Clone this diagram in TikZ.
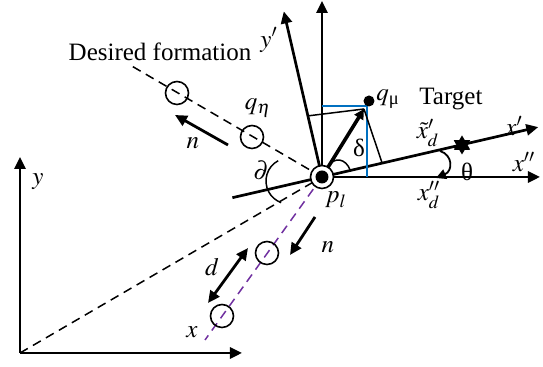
\documentclass[tikz,border=0pt]{standalone}
\usepackage{amsmath}
\usepackage{mathptmx}
\usepackage[no-math]{fontspec}
\setmainfont{Liberation Serif}
\usepackage{tikz}
\usetikzlibrary{arrows.meta,shapes.geometric}
\definecolor{projblue}{RGB}{0,112,192}
\definecolor{linkpurple}{RGB}{112,48,160}

\begin{document}
\begin{tikzpicture}[x=0.5pt,y=0.5pt,
  axis/.style={line width=1.35pt,-{Triangle[length=6pt,width=5.5pt]}},
  dline/.style={line width=0.75pt,dash pattern=on 4.5pt off 3pt},
  proj/.style={line width=0.75pt},
  movearr/.style={line width=1.4pt,-{Triangle[length=6pt,width=5.5pt]}},
  agent/.style={circle,draw,line width=0.8pt,minimum size=11.5pt,inner sep=0pt},
  lbl/.style={font=\fontsize{12.5}{15}\selectfont,inner sep=1pt},
  >={Triangle[length=5pt,width=5pt]}]
\useasboundingbox (0,0) rectangle (543,367);
\coordinate (pl) at (322,190);
\coordinate (origin) at (20,14);
\coordinate (worldx) at (242,14);
\coordinate (worldy) at (20,210);
\coordinate (ztop) at (322,366);
\coordinate (xpp) at (540,190);
\coordinate (xptip) at (538.3,239.9);
\coordinate (xpback) at (232.4,169.3);
\coordinate (yptip) at (283.8,355.6);
\coordinate (formend) at (130,302);
\coordinate (linkend) at (205,27);
\coordinate (qtip) at (364,258);
\coordinate (footx) at (382.1,203.9);
\coordinate (footy) at (307.9,251.1);
\coordinate (bleft) at (322,261);
\coordinate (bcorner) at (367,261);
\coordinate (bfoot) at (367,190);
\coordinate (nstartA) at (228,222);
\coordinate (nendA) at (175,252);
\coordinate (nstartB) at (315,150);
\coordinate (nendB) at (290,112);
\coordinate (dA) at (248,119);
\coordinate (dB) at (208,64);

% world frame
\draw[axis] (origin) -- (worldx);
\draw[axis] (origin) -- (worldy);
\draw[dline] (origin) -- (pl);

% formation lines and agents
\draw[dline] (pl) -- (formend);
\draw[dline,linkpurple] (pl) -- (linkend);
\node[agent] (qeta) at (252,230) {};
\node[agent] (qfar) at (177,274) {};
\node[agent] (fnear) at (267,114) {};
\node[agent] (ffar) at (222,51) {};

% leader frames
\draw[axis] (pl) -- (ztop);
\draw[axis] (pl) -- (xpp);
\draw[axis] (xpback) -- (xptip);
\draw[axis] (pl) -- (yptip);

% projections of the target
\draw[projblue,line width=1.1pt] (bleft) -- (bcorner) -- (bfoot);
\draw[proj] (footy) -- (qtip);
\draw[proj] (footx) -- (qtip);
\draw[line width=1.8pt,->] (pl) -- (qtip);
\node[circle,fill,minimum size=5.5pt,inner sep=0pt] (target) at (369,266) {};
\node[star,star points=6,star point ratio=1.7,fill,minimum size=9.5pt,inner sep=0pt] (xdmark) at (462,222) {};

% angles
\draw[proj] (328.7,201.1) .. controls (334,210) and (346,209) .. (350.3,196.5);
\draw[line width=0.9pt,->] (440,216) .. controls (453,212) and (453,196) .. (436,189);
\draw[proj] (278.2,206.3) arc[start angle=118,end angle=250,radius=11.5pt];

% motion arrows
\draw[movearr] (nstartA) -- (nendA);
\draw[movearr] (nstartB) -- (nendB);
\draw[line width=1.4pt,{Triangle[length=6pt,width=5.5pt]}-{Triangle[length=6pt,width=5.5pt]}] (dA) -- (dB);

% leader point
\node[circle,draw,fill=white,line width=0.8pt,minimum size=11.5pt,inner sep=0pt] (plring) at (pl) {};
\node[circle,fill,minimum size=6.5pt,inner sep=0pt] (pldot) at (pl) {};

% labels
\node[lbl] (formlbl) at (160,315) {Desired formation};
\node[lbl] (qetalbl) at (258,259) {$q_{\eta}$};
\node[lbl] (nlblA) at (193,224) {$n$};
\node[lbl] (yplbl) at (269,327) {$y'$};
\node[lbl,anchor=west] (qmulbl) at (374,268) {$q_{\text{μ}}$};
\node[lbl,anchor=west] (targetlbl) at (417,268) {Target};
\node[lbl] (xplbl) at (514,241) {$x'$};
\node[lbl] (xdplbl) at (428,234) {$\tilde{x}_d'$};
\node[lbl] (thetalbl) at (467,195) {θ};
\node[lbl] (xpplbl) at (524,205) {$x''$};
\node[lbl] (xdpplbl) at (429,172) {$x_d''$};
\node[lbl] (deltalbl) at (359,219) {δ};
\node[lbl] (pllbl) at (336,167) {$p_l$};
\node[lbl] (partlbl) at (261,197) {$\partial$};
\node[lbl] (nlblB) at (328,120) {$n$};
\node[lbl] (dlbl) at (212,100) {$d$};
\node[lbl] (xlbl) at (192,35) {$x$};
\node[lbl] (ylbl) at (38,185) {$y$};
\end{tikzpicture}
\end{document}
